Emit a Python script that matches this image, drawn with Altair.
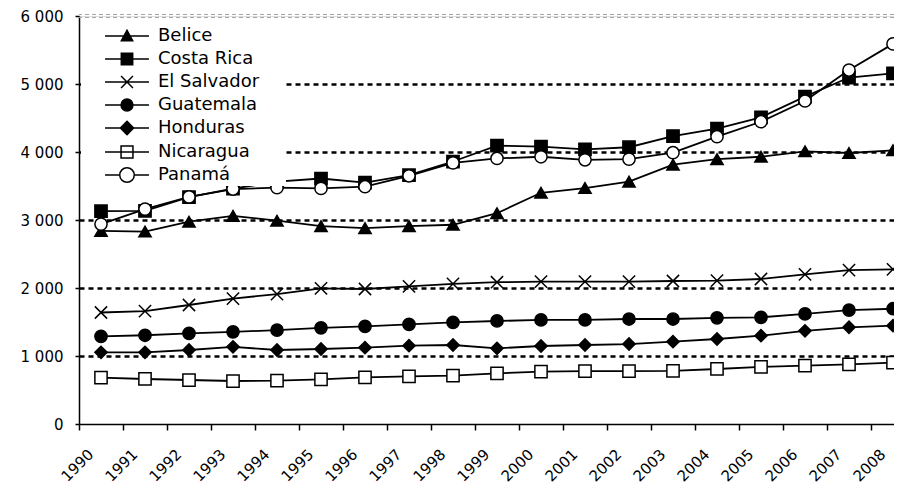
import altair as alt
import pandas as pd

years = [str(y) for y in range(1990, 2009)]
series_names = ["Belice", "Costa Rica", "El Salvador", "Guatemala", "Honduras", "Nicaragua", "Panamá"]

belice = [2840, 2830, 2975, 3060, 2990, 2910, 2880, 2910, 2930, 3100, 3400, 3470, 3565, 3815, 3895, 3930, 4010, 3985, 4025]
costa_rica = [3130, 3135, 3335, 3460, 3565, 3610, 3550, 3660, 3860, 4095, 4080, 4040, 4070, 4235, 4345, 4510, 4815, 5095, 5155]
el_salvador = [1640, 1660, 1750, 1845, 1910, 1995, 1985, 2025, 2060, 2085, 2093, 2093, 2095, 2103, 2108, 2132, 2200, 2262, 2275]
guatemala = [1290, 1305, 1333, 1355, 1380, 1415, 1435, 1465, 1495, 1515, 1530, 1530, 1544, 1544, 1562, 1569, 1618, 1676, 1695]
honduras = [1054, 1054, 1088, 1135, 1088, 1103, 1123, 1152, 1162, 1113, 1147, 1162, 1176, 1211, 1250, 1299, 1370, 1422, 1446]
nicaragua = [681, 662, 647, 632, 637, 657, 686, 701, 711, 745, 770, 779, 779, 781, 809, 840, 858, 877, 902]
panama = [2940, 3160, 3340, 3455, 3475, 3465, 3490, 3650, 3840, 3905, 3930, 3885, 3895, 3990, 4225, 4445, 4750, 5205, 5590]

y_ticks = [0, 1000, 2000, 3000, 4000, 5000, 6000]
top_line = [6000]

all_series = [belice, costa_rica, el_salvador, guatemala, honduras, nicaragua, panama]
rows = []
for name, vals in zip(series_names, all_series):
    for yr, v in zip(years, vals):
        rows.append({"year": yr, "series": name, "value": v})
df = pd.DataFrame(rows)

point_shapes = ["triangle-up", "square", "M-1,-1L1,1M-1,1L1,-1", "circle", "diamond", "square", "circle"]
point_fills = ["black", "black", "black", "black", "black", "white", "white"]
legend_strokes = ["black"] * 7

# legend symbols: a short line with the marker in its middle
legend_paths = [
    "M-1.66,0H1.66M-0.43,0.36L0,-0.43L0.43,0.36Z",
    "M-1.66,0H1.66M-0.43,-0.43H0.43V0.43H-0.43Z",
    "M-1.66,0H1.66M-0.45,-0.45L0.45,0.45M-0.45,0.45L0.45,-0.45",
    "M-1.66,0H1.66M0.45,0A0.45,0.45 0 1,1 -0.45,0A0.45,0.45 0 1,1 0.45,0Z",
    "M-1.66,0H1.66M0,-0.5L0.5,0L0,0.5L-0.5,0Z",
    "M-1.66,0H1.66M-0.45,-0.45H0.45V0.45H-0.45Z",
    "M-1.66,0H-0.55M0.55,0H1.66M0.55,0A0.55,0.55 0 1,1 -0.55,0A0.55,0.55 0 1,1 0.55,0Z",
]

legend = alt.Legend(
    title=None, orient="none", legendX=2, legendY=6, direction="vertical",
    fillColor="white", padding=0, symbolSize=700, symbolStrokeWidth=1.5,
    symbolStrokeColor="black", symbolOpacity=1, symbolOffset=32, labelOffset=17,
    labelFont="DejaVu Sans", labelFontSize=18, labelColor="black", rowPadding=0,
    labelExpr="datum.label + '\u2800\u2800'",
)

x_enc = alt.X("year:O", sort=years, title=None,
              scale=alt.Scale(type="band", paddingInner=0, paddingOuter=0, range=[0, 836]),
              axis=alt.Axis(tickBand="extent", labelAngle=315, labelAlign="right",
                            labelBaseline="alphabetic", labelOffset=-7, labelPadding=25,
                            labelFont="DejaVu Sans", labelFontSize=15, labelColor="black",
                            tickSize=6, tickColor="black", tickWidth=1.5,
                            domainColor="black", domainWidth=1.5, grid=False,
                            labelOverlap=False))
y_enc = alt.Y("value:Q", title=None,
              scale=alt.Scale(domain=[0, 6000], nice=False),
              axis=alt.Axis(values=y_ticks,
                            labelExpr="replace(format(datum.value, ','), ',', ' ')",
                            labelFont="DejaVu Sans", labelFontSize=15, labelColor="black",
                            labelPadding=12, tickSize=4, tickColor="black", tickWidth=1.5,
                            domainColor="black", domainWidth=1.5,
                            grid=True, gridColor="black", gridDash=[5, 4], gridWidth=2.5,
                            gridOpacity={"condition": {"test": "datum.value == 0 || datum.value == 6000", "value": 0}, "value": 1}))

top_df = pd.DataFrame({"value": top_line})
rule_a = alt.Chart(top_df).mark_rule(color="#a6a6a6", strokeDash=[4, 3], strokeWidth=1, yOffset=-1.5).encode(
    y=alt.Y("value:Q"))
rule_b = alt.Chart(top_df).mark_rule(color="#a6a6a6", strokeDash=[4, 3], strokeWidth=1, yOffset=1.5).encode(
    y=alt.Y("value:Q"))

lines = alt.Chart(df).mark_line(color="black", strokeWidth=1.8).encode(
    x=x_enc, y=y_enc, detail="series:N")

points = alt.Chart(df).mark_point(stroke="black", strokeWidth=1.5, size=150, opacity=1, fillOpacity=1).encode(
    x=x_enc, y=y_enc,
    shape=alt.Shape("series:N", scale=alt.Scale(domain=series_names, range=point_shapes), legend=None),
    fill=alt.Fill("series:N", scale=alt.Scale(domain=series_names, range=point_fills), legend=None),
)

legend_layer = alt.Chart(df).mark_point(strokeWidth=1.5, opacity=0).encode(
    x=x_enc, y=y_enc,
    shape=alt.Shape("series:N", scale=alt.Scale(domain=series_names, range=legend_paths), legend=legend),
    fill=alt.Fill("series:N", scale=alt.Scale(domain=series_names, range=point_fills), legend=legend),
    stroke=alt.Stroke("series:N", scale=alt.Scale(domain=series_names, range=legend_strokes), legend=legend),
)

chart = alt.layer(rule_a, rule_b, lines, points, legend_layer).resolve_scale(
    shape="independent", fill="independent", stroke="independent"
).properties(
    width=815, height=408,
    autosize=alt.AutoSizeParams(type="none"),
    padding={"left": 71, "top": 8, "right": 0, "bottom": 64},
    background="white",
).configure_view(stroke=None).configure(font="DejaVu Sans")

chart.save("out.html", embed_options={"renderer": "svg", "actions": False})
